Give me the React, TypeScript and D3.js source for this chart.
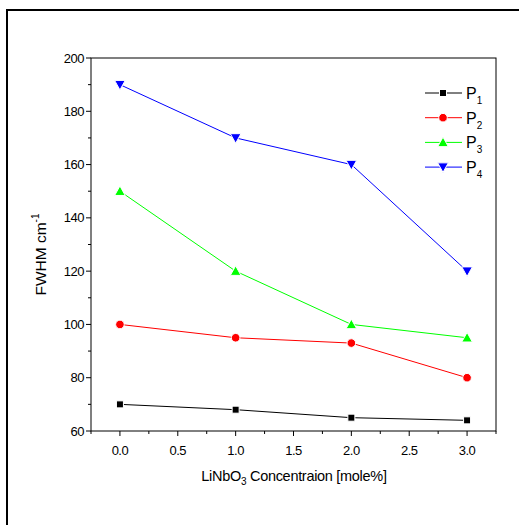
import React from 'react';
import * as d3 from 'd3';

const concentration = [0, 1, 2, 3];
const p1 = [70, 68, 65, 64];
const p2 = [100, 95, 93, 80];
const p3 = [150, 120, 100, 95];
const p4 = [190, 170, 160, 120];
const yTicks = [60, 80, 100, 120, 140, 160, 180, 200];
const xTicks = [0, 0.5, 1, 1.5, 2, 2.5, 3];

const series = [
  { name: 'P', sub: '1', values: p1, color: '#000000', shape: 'square' },
  { name: 'P', sub: '2', values: p2, color: '#ff0000', shape: 'circle' },
  { name: 'P', sub: '3', values: p3, color: '#00ff00', shape: 'up' },
  { name: 'P', sub: '4', values: p4, color: '#0000ff', shape: 'down' },
];

const font = 'Arial, "Liberation Sans", sans-serif';

const Marker = ({ x, y, shape, color }) => {
  if (shape === 'square') return <rect x={x - 3.5} y={y - 3.5} width={7} height={7} fill={color} stroke="#fff" strokeWidth={1} />;
  if (shape === 'circle') return <circle cx={x} cy={y} r={4.3} fill={color} stroke="#fff" strokeWidth={1} />;
  const s = 5.3;
  const pts = shape === 'up'
    ? `${x},${y - s} ${x + s},${y + s * 0.8} ${x - s},${y + s * 0.8}`
    : `${x},${y + s} ${x + s},${y - s * 0.8} ${x - s},${y - s * 0.8}`;
  return <polygon points={pts} fill={color} stroke="#fff" strokeWidth={1} />;
};

export default function App() {
  const left = 91, right = 496, top = 58, bottom = 431;
  const x = d3.scaleLinear().domain([-0.25, 3.25]).range([left, right]);
  const y = d3.scaleLinear().domain([60, 200]).range([bottom, top]);
  const line = d3.line<number>().x((_, i) => x(concentration[i])).y(d => y(d));
  const xMinor = d3.range(-0.25, 3.26, 0.5);
  const yMinor = d3.range(70, 200, 20);

  return (
    <svg width={519} height={525} style={{ position: 'absolute', left: 0, top: 0, background: '#fff' }} fontFamily={font}>
      <line x1={7} y1={10} x2={519} y2={10} stroke="#000" strokeWidth={2} />
      <line x1={7} y1={9} x2={7} y2={525} stroke="#000" strokeWidth={2} />

      <rect x={left} y={top} width={right - left} height={bottom - top} fill="none" stroke="#000" strokeWidth={1} />

      {yTicks.map(t => (
        <g key={t}>
          <line x1={left - 5} x2={left} y1={y(t)} y2={y(t)} stroke="#000" />
          <text x={left - 7} y={y(t) + 4.5} fontSize={13} letterSpacing={-0.5} textAnchor="end">{t}</text>
        </g>
      ))}
      {yMinor.map(t => <line key={t} x1={left - 3} x2={left} y1={y(t)} y2={y(t)} stroke="#000" />)}

      {xTicks.map(t => (
        <g key={t}>
          <line x1={x(t)} x2={x(t)} y1={bottom} y2={bottom + 5} stroke="#000" />
          <text x={x(t)} y={bottom + 24} fontSize={13} letterSpacing={-0.5} textAnchor="middle">{t.toFixed(1)}</text>
        </g>
      ))}
      {xMinor.map(t => <line key={t} x1={x(t)} x2={x(t)} y1={bottom} y2={bottom + 3} stroke="#000" />)}

      <text x={294} y={481} fontSize={14.5} letterSpacing={-0.3} textAnchor="middle">
        LiNbO<tspan fontSize={10} dy={4}>3</tspan><tspan dy={-4}> Concentraion [mole%]</tspan>
      </text>
      <text transform={`translate(46,${(top + bottom) / 2 + 10}) rotate(-90)`} fontSize={15.5} textAnchor="middle">
        FWHM cm<tspan fontSize={10} dy={-7}>-1</tspan>
      </text>

      {series.map(s => (
        <g key={s.sub}>
          <path d={line(s.values) || ''} fill="none" stroke={s.color} strokeWidth={1} />
          {s.values.map((v, i) => <Marker key={i} x={x(concentration[i])} y={y(v)} shape={s.shape} color={s.color} />)}
        </g>
      ))}

      {series.map((s, i) => {
        const ly = 93 + i * 24.7;
        return (
          <g key={'l' + s.sub}>
            <line x1={425} x2={462} y1={ly} y2={ly} stroke={s.color} strokeWidth={1} />
            <Marker x={443} y={ly} shape={s.shape} color={s.color} />
            <text x={466} y={ly + 6} fontSize={16}>{s.name}<tspan fontSize={10} dy={5}>{s.sub}</tspan></text>
          </g>
        );
      })}
    </svg>
  );
}
